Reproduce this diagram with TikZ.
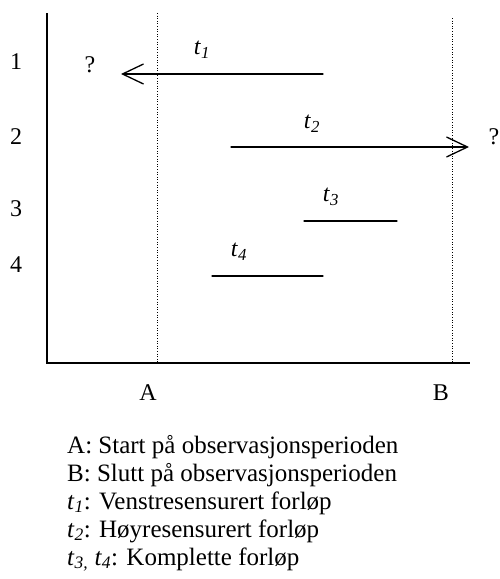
\documentclass[tikz,border=0pt]{standalone}
\usepackage{fontspec}
\setmainfont{Liberation Serif}
\usetikzlibrary{arrows.meta}
\newcommand{\tlab}[1]{\textit{t}\textsubscript{\textit{#1}}}

\begin{document}
\begin{tikzpicture}[x=1pt,y=-1pt,line cap=round,
        every node/.style={font=\fontsize{24}{28}\selectfont,inner sep=0pt},
        forklaring/.style={anchor=base west,font=\fontsize{25}{28}\selectfont},
        forlop/.style={line width=1.3pt},
        sensur/.style={forlop,-{Straight Barb[length=21pt,width=20pt,line width=1.3pt]}},
        grense/.style={line width=1pt,line cap=butt,dash pattern=on 1pt off 1.6pt}]
        \useasboundingbox (0,0) rectangle (499,579);

        % akser
        \coordinate (ytopp) at (47,13);
        \coordinate (origo) at (47,363);
        \coordinate (xende) at (470,363);
        \draw[line width=2pt,line cap=butt] (ytopp) -- (origo) -- (xende);

        % start og slutt paa observasjonsperioden
        \coordinate (Atopp) at (157,13);
        \coordinate (Abunn) at (157,363);
        \coordinate (Btopp) at (452,18);
        \coordinate (Bbunn) at (452,363);
        \draw[grense] (Atopp) -- (Abunn);
        \draw[grense] (Btopp) -- (Bbunn);
        \node (A) at (148,393) {A};
        \node (B) at (441,393) {B};

        \foreach \n/\y in {1/62,2/137,3/209,4/265}{
            \node (rad\n) at (16,\y) {\n};
        }

        % forloepene
        \coordinate (s1) at (323,74);
        \coordinate (e1) at (121,74);
        \coordinate (s2) at (231,147);
        \coordinate (e2) at (469,147);
        \coordinate (s3) at (304,221);
        \coordinate (e3) at (397,221);
        \coordinate (s4) at (212,276);
        \coordinate (e4) at (323,276);

        \draw[sensur] (s1) -- (e1);
        \draw[sensur] (s2) -- (e2);
        \draw[forlop] (s3) -- (e3);
        \draw[forlop] (s4) -- (e4);

        \node (t1) at (202,50) {\tlab{1}};
        \node (t2) at (312,124) {\tlab{2}};
        \node (t3) at (331,197) {\tlab{3}};
        \node (t4) at (239,252) {\tlab{4}};
        \node (sp1) at (90,65) {?};
        \node (sp2) at (494,137) {?};

        % forklaring
        \node[forklaring] (fA) at (67,453) {A: Start på observasjonsperioden};
        \node[forklaring] (fB) at (67,481) {B: Slutt på observasjonsperioden};
        \node[forklaring] (f1) at (67,509) {\tlab{1}: Venstresensurert forløp};
        \node[forklaring] (f2) at (67,537) {\tlab{2}: Høyresensurert forløp};
        \node[forklaring] (f34) at (67,565) {\tlab{3,} \tlab{4}: Komplette forløp};
    \end{tikzpicture}
\end{document}
